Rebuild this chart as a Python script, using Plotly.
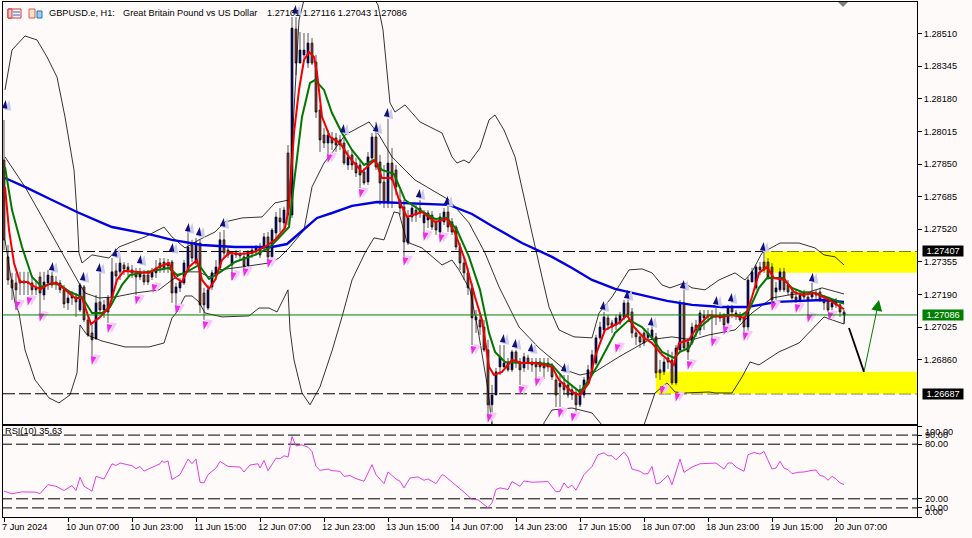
import plotly.graph_objects as go

opens = [1.27870,1.27380,1.27263,1.27248,1.27263,1.27248,1.27253,1.27248,1.27223,1.27278,
1.27187,1.27248,1.27283,1.27253,1.27248,1.27213,1.27147,1.27172,1.27177,1.27111,
1.27228,1.27061,1.26995,1.26965,1.27152,1.27111,1.27172,1.27172,1.27309,1.27304,
1.27339,1.27329,1.27314,1.27299,1.27278,1.27288,1.27288,1.27278,1.27299,1.27349,
1.27354,1.27349,1.27354,1.27197,1.27223,1.27248,1.27314,1.27440,1.27349,1.27450,
1.27197,1.27121,1.27228,1.27288,1.27324,1.27466,1.27415,1.27339,1.27400,1.27385,
1.27380,1.27334,1.27415,1.27405,1.27430,1.27425,1.27481,1.27380,1.27501,1.27577,
1.27552,1.27906,1.27592,1.28533,1.28361,1.28402,1.28361,1.28462,1.28366,1.28123,
1.27997,1.27956,1.27982,1.27982,1.27972,1.27956,1.27845,1.27896,1.27855,1.27845,
1.27810,1.27759,1.27880,1.27987,1.27860,1.27759,1.27653,1.27855,1.27820,1.27668,
1.27633,1.27450,1.27582,1.27617,1.27627,1.27552,1.27567,1.27592,1.27557,1.27506,
1.27557,1.27607,1.27557,1.27531,1.27430,1.27349,1.27299,1.27223,1.27076,1.27061,
1.27025,1.26909,1.26631,1.26681,1.26823,1.26823,1.26843,1.26808,1.26899,1.26848,
1.26818,1.26868,1.26848,1.26848,1.26848,1.26843,1.26823,1.26823,1.26757,1.26722,
1.26742,1.26732,1.26681,1.26691,1.26631,1.26681,1.26742,1.26793,1.26843,1.26970,
1.27010,1.27071,1.27046,1.27035,1.27046,1.27076,1.27147,1.27101,1.26995,1.26975,
1.26995,1.26970,1.26970,1.26975,1.26808,1.26798,1.26868,1.26858,1.26742,1.26909,
1.27147,1.26949,1.26944,1.27035,1.27010,1.27086,1.27086,1.27086,1.27086,1.27071,
1.27076,1.27046,1.27121,1.27086,1.27086,1.27071,1.27025,1.27253,1.27223,1.27329,
1.27354,1.27354,1.27329,1.27202,1.27213,1.27304,1.27238,1.27202,1.27177,1.27162,
1.27197,1.27177,1.27177,1.27197,1.27202,1.27162,1.27162,1.27126,1.27162,1.27137,
1.27101]
closes = [1.27466,1.27263,1.27223,1.27213,1.27248,1.27258,1.27248,1.27213,1.27213,1.27197,
1.27253,1.27288,1.27238,1.27243,1.27213,1.27142,1.27172,1.27187,1.27152,1.27238,
1.27061,1.26985,1.26960,1.27147,1.27111,1.27137,1.27101,1.27304,1.27283,1.27349,
1.27319,1.27314,1.27299,1.27278,1.27304,1.27253,1.27253,1.27304,1.27324,1.27324,
1.27324,1.27334,1.27197,1.27228,1.27253,1.27349,1.27430,1.27374,1.27450,1.27137,
1.27137,1.27213,1.27299,1.27329,1.27466,1.27400,1.27390,1.27390,1.27390,1.27395,
1.27334,1.27405,1.27400,1.27425,1.27390,1.27481,1.27380,1.27516,1.27582,1.27557,
1.27617,1.27592,1.28538,1.28361,1.28427,1.28427,1.28462,1.28361,1.28113,1.27972,
1.27956,1.27997,1.27956,1.27946,1.27946,1.27855,1.27886,1.27845,1.27805,1.27794,
1.27754,1.27886,1.27987,1.27835,1.27754,1.27653,1.27855,1.27769,1.27734,1.27627,
1.27455,1.27577,1.27627,1.27592,1.27602,1.27592,1.27602,1.27531,1.27516,1.27582,
1.27607,1.27531,1.27506,1.27430,1.27349,1.27299,1.27223,1.27071,1.27061,1.27025,
1.26909,1.26631,1.26681,1.26798,1.26874,1.26843,1.26808,1.26899,1.26848,1.26808,
1.26874,1.26843,1.26833,1.26823,1.26823,1.26818,1.26843,1.26772,1.26681,1.26742,
1.26707,1.26681,1.26707,1.26631,1.26707,1.26757,1.26808,1.26884,1.26970,1.27025,
1.27076,1.27035,1.27025,1.27071,1.27086,1.27147,1.27086,1.26995,1.26975,1.26949,
1.26944,1.26995,1.27010,1.26793,1.26793,1.26848,1.26848,1.26742,1.26919,1.27147,
1.26919,1.26899,1.27025,1.27010,1.27096,1.27071,1.27076,1.27071,1.27076,1.27086,
1.27035,1.27121,1.27101,1.27096,1.27061,1.27025,1.27263,1.27304,1.27329,1.27314,
1.27314,1.27278,1.27162,1.27223,1.27304,1.27213,1.27202,1.27172,1.27162,1.27187,
1.27177,1.27162,1.27197,1.27187,1.27162,1.27147,1.27111,1.27147,1.27137,1.27101,
1.27086]
highs = [1.28073,1.27440,1.27299,1.27299,1.27304,1.27304,1.27304,1.27288,1.27263,1.27304,
1.27304,1.27314,1.27304,1.27283,1.27263,1.27238,1.27197,1.27207,1.27197,1.27248,
1.27238,1.27086,1.27035,1.27187,1.27299,1.27162,1.27187,1.27374,1.27349,1.27374,
1.27354,1.27349,1.27339,1.27324,1.27324,1.27314,1.27314,1.27324,1.27364,1.27374,
1.27374,1.27369,1.27364,1.27248,1.27273,1.27364,1.27516,1.27466,1.27476,1.27466,
1.27223,1.27238,1.27314,1.27364,1.27506,1.27516,1.27425,1.27405,1.27415,1.27415,
1.27405,1.27415,1.27430,1.27440,1.27450,1.27501,1.27506,1.27526,1.27607,1.27627,
1.27633,1.27946,1.28594,1.28594,1.28518,1.28513,1.28513,1.28488,1.28402,1.28149,
1.28032,1.28022,1.28012,1.28007,1.27997,1.27982,1.27921,1.27921,1.27880,1.27870,
1.27830,1.27911,1.28007,1.28063,1.27896,1.27845,1.28078,1.27931,1.27845,1.27719,
1.27668,1.27617,1.27643,1.27643,1.27668,1.27617,1.27617,1.27612,1.27577,1.27602,
1.27627,1.27643,1.27577,1.27541,1.27450,1.27374,1.27324,1.27248,1.27111,1.27086,
1.27061,1.26960,1.26732,1.26818,1.26934,1.26934,1.26868,1.26909,1.26909,1.26868,
1.26894,1.26884,1.26868,1.26868,1.26868,1.26868,1.26868,1.26843,1.26782,1.26782,
1.26782,1.26782,1.26732,1.26717,1.26732,1.26772,1.26833,1.26909,1.26985,1.27051,
1.27101,1.27086,1.27061,1.27086,1.27101,1.27162,1.27162,1.27121,1.27020,1.26995,
1.27020,1.27020,1.27035,1.26995,1.26858,1.26868,1.26909,1.26899,1.26934,1.27162,
1.27213,1.26970,1.27046,1.27061,1.27111,1.27111,1.27111,1.27111,1.27121,1.27101,
1.27096,1.27137,1.27137,1.27111,1.27101,1.27086,1.27278,1.27324,1.27339,1.27354,
1.27405,1.27374,1.27349,1.27253,1.27324,1.27324,1.27263,1.27223,1.27213,1.27202,
1.27213,1.27197,1.27248,1.27213,1.27223,1.27187,1.27177,1.27162,1.27172,1.27147,
1.27111]
lows = [1.27415,1.27238,1.27162,1.27111,1.27187,1.27187,1.27187,1.27187,1.27187,1.27096,
1.27162,1.27213,1.27223,1.27213,1.27197,1.27121,1.27111,1.27137,1.27076,1.27101,
1.27051,1.26975,1.26879,1.26960,1.27096,1.27071,1.27046,1.27162,1.27238,1.27263,
1.27288,1.27283,1.27273,1.27187,1.27263,1.27238,1.27238,1.27263,1.27273,1.27299,
1.27299,1.27299,1.27147,1.27137,1.27202,1.27238,1.27304,1.27354,1.27339,1.27096,
1.27061,1.27111,1.27213,1.27263,1.27314,1.27374,1.27374,1.27263,1.27374,1.27364,
1.27324,1.27324,1.27374,1.27385,1.27374,1.27405,1.27364,1.27364,1.27476,1.27506,
1.27526,1.27541,1.27577,1.28300,1.28361,1.28376,1.28336,1.28351,1.28083,1.27911,
1.27931,1.27901,1.27921,1.27911,1.27921,1.27845,1.27820,1.27820,1.27784,1.27729,
1.27744,1.27744,1.27860,1.27820,1.27643,1.27627,1.27627,1.27627,1.27693,1.27592,
1.27380,1.27440,1.27557,1.27557,1.27577,1.27506,1.27526,1.27516,1.27491,1.27496,
1.27541,1.27506,1.27491,1.27415,1.27314,1.27263,1.27187,1.26934,1.26995,1.26985,
1.26899,1.26570,1.26529,1.26681,1.26782,1.26818,1.26798,1.26798,1.26818,1.26732,
1.26798,1.26808,1.26798,1.26767,1.26798,1.26762,1.26798,1.26757,1.26620,1.26620,
1.26681,1.26666,1.26656,1.26595,1.26620,1.26666,1.26732,1.26782,1.26833,1.26960,
1.26995,1.27010,1.26995,1.27010,1.27035,1.27061,1.27071,1.26970,1.26934,1.26919,
1.26929,1.26960,1.26960,1.26767,1.26757,1.26782,1.26813,1.26732,1.26732,1.26899,
1.26909,1.26858,1.26934,1.26975,1.26985,1.27010,1.27051,1.26970,1.27035,1.27051,
1.27020,1.27035,1.27071,1.27061,1.27051,1.27000,1.26985,1.27253,1.27213,1.27288,
1.27299,1.27263,1.27152,1.27162,1.27202,1.27202,1.27187,1.27162,1.27147,1.27147,
1.27162,1.27081,1.27162,1.27162,1.27152,1.27111,1.27101,1.27111,1.27121,1.27076,
1.27043]

red_bars = [0.25,1.25,2.5,4,5.75,7.75,9.25,11.25,13.25,15.25,17.75,19.5,20.75,21.75,23.75,26.25,28.25,30,32.75,36.25,38.75,41.25,42.75,44.5,46.25,48.25,49.5,51.25,52.75,54.5,56.25,58.75,62,65.25,67.75,70.25,71.25,72.5,73.75,75,76.25,77.5,78.25,79.5,81.5,84,86.25,89.5,91.25,92.75,94.5,97,99,100.75,104.5,107.75,110.75,112.75,115.25,117.75,119.5,121.25,122.5,124.5,127,129.5,132.75,137,138.75,142,144,146.25,147.75,150.25,153.75,155.75,157.5,160,162,164.5,167.5,168.75,171.25,173.25,176.25,179.5,182,185.25,187,188.75,190.75,192.5,195.25,197.5,199.5,202.75,206.25,210]
red_ma = [1.27734,1.27516,1.27349,1.27253,1.27253,1.27228,1.27218,1.27243,1.27248,1.27213,1.27172,1.27172,1.27096,1.27040,1.27071,1.27121,1.27263,1.27309,1.27304,1.27299,1.27329,1.27349,1.27278,1.27253,1.27329,1.27364,1.27263,1.27218,1.27263,1.27364,1.27400,1.27395,1.27400,1.27430,1.27466,1.27526,1.27633,1.28007,1.28225,1.28376,1.28417,1.28392,1.28311,1.28088,1.27987,1.27956,1.27886,1.27810,1.27845,1.27870,1.27779,1.27779,1.27653,1.27582,1.27607,1.27557,1.27572,1.27501,1.27364,1.27177,1.27061,1.26823,1.26782,1.26798,1.26858,1.26843,1.26843,1.26823,1.26757,1.26696,1.26681,1.26742,1.26874,1.27010,1.27046,1.27086,1.27025,1.26970,1.26944,1.26884,1.26833,1.26944,1.26960,1.27025,1.27086,1.27076,1.27086,1.27071,1.27177,1.27299,1.27329,1.27273,1.27263,1.27202,1.27187,1.27197,1.27162,1.27116]

green_bars = [0.25,2,4.5,7,9.5,12,14,16.5,19.5,22,24.5,26.5,29.5,31.5,34.5,38.75,41.25,43.25,45.25,48.75,51.25,53.75,57.75,62.75,66.25,68.25,71.25,72.5,74.5,76.5,77.75,80,82,84.5,87,90,92.5,94.5,97.5,100.25,104,107.75,110.75,113.25,116.25,119,121.25,122.75,125.25,129.5,133.75,137,140.25,144,146.25,148.75,152.75,156.25,159.5,162,164.5,167.5,169,171.25,173.75,177,180.25,184.5,186.25,188.75,190.75,194.5,197,199.5,202.75,206.25,210]
green_ma = [1.27835,1.27617,1.27430,1.27278,1.27228,1.27248,1.27238,1.27202,1.27177,1.27096,1.27096,1.27126,1.27238,1.27288,1.27299,1.27314,1.27324,1.27288,1.27299,1.27339,1.27268,1.27299,1.27354,1.27390,1.27425,1.27466,1.27531,1.27754,1.28088,1.28260,1.28275,1.28225,1.28108,1.28007,1.27921,1.27845,1.27870,1.27820,1.27799,1.27668,1.27617,1.27572,1.27577,1.27516,1.27380,1.27213,1.26995,1.26899,1.26848,1.26843,1.26843,1.26833,1.26757,1.26696,1.26757,1.26843,1.26995,1.27061,1.27025,1.26970,1.26899,1.26868,1.26899,1.26919,1.27020,1.27076,1.27086,1.27086,1.27111,1.27223,1.27273,1.27273,1.27223,1.27202,1.27197,1.27172,1.27142]

blue_bars = [0.25,5.75,12,18.25,24.5,27,37,42,49.5,57.75,67,70.75,74.5,78.25,82,87,93.25,99.5,111.25,117,122,129.5,137,142,147,152.75,162,165.75,172,179.5,185.75,190.75,193.25,199.5,204.5,210]
blue_ma = [1.27779,1.27729,1.27668,1.27607,1.27552,1.27531,1.27491,1.27466,1.27440,1.27430,1.27430,1.27445,1.27511,1.27577,1.27602,1.27638,1.27658,1.27653,1.27643,1.27597,1.27536,1.27450,1.27380,1.27324,1.27263,1.27218,1.27177,1.27157,1.27137,1.27126,1.27126,1.27142,1.27152,1.27157,1.27162,1.27152]

upper_bars = [0.25,2,5.25,8.25,10.75,13.25,15.25,17.5,18.25,18.75,19.5,22,26.25,28.75,35.25,40,42,45.25,48.75,52.75,55.25,59.5,64.5,67.75,71.25,73.75,75,82,92,93.5,94.75,95.75,96.5,97.75,100.25,104,109.5,112,113.25,115,116.25,119,121.25,122.75,125,127.75,129.5,132,134.5,136.25,138.75,142.5,147,148.75,152,156.25,159.5,162,164.5,166.5,170,172,175.25,178.75,182.75,185.25,187,189.5,194,198.75,202.75,205,207.75,210]
upper_band = [1.28225,1.28427,1.28498,1.28478,1.28392,1.28290,1.28088,1.27820,1.27602,1.27400,1.27349,1.27390,1.27374,1.27430,1.27481,1.27531,1.27481,1.27425,1.27466,1.27506,1.27557,1.27577,1.27582,1.27653,1.27668,1.28579,1.28680,1.28984,1.28705,1.28655,1.28528,1.28326,1.28159,1.28113,1.28149,1.28063,1.28007,1.27886,1.27855,1.27870,1.27855,1.27931,1.28073,1.28098,1.28022,1.27886,1.27734,1.27501,1.27278,1.27126,1.27010,1.26975,1.26970,1.27096,1.27177,1.27314,1.27319,1.27299,1.27238,1.27223,1.27248,1.27223,1.27213,1.27263,1.27299,1.27263,1.27304,1.27400,1.27450,1.27450,1.27425,1.27390,1.27380,1.27339]

inner_bars = [0.25,5.25,9.5,15,19,20.25,23.75,27.75,32.75,38.75,42,45.25,48.75,51.25,53.75,59.5,66.25,68.75,71.25,75,77,80,82,85.25,91.25,93.75,97,102.75,111.25,116.25,120.25,123.75,128.75,133.75,140.25,144,147.75,153.75,161.25,167,172,176.25,182.75,187,192,196.25,201.25,204.5,210]
inner_band = [1.27886,1.27734,1.27582,1.27380,1.27238,1.27197,1.27172,1.27177,1.27197,1.27213,1.27263,1.27304,1.27304,1.27278,1.27314,1.27329,1.27349,1.27374,1.27425,1.27516,1.27734,1.27855,1.27906,1.27997,1.28063,1.27997,1.27886,1.27769,1.27668,1.27552,1.27400,1.27228,1.27025,1.26919,1.26808,1.26782,1.26798,1.26874,1.26960,1.26975,1.26960,1.26985,1.27010,1.27096,1.27172,1.27187,1.27202,1.27223,1.27192]

lower_bars = [0.25,2.75,3.75,5.25,7.75,11.25,13.75,16.5,18.25,19,20.75,24.5,30.25,36.25,40,42,43.25,45.25,47,48.75,50.25,54.5,61.25,63.75,66.25,68.25,71,71.5,72.5,74.5,76.5,79,82,84.5,87,90.25,92.5,95,97.5,98.75,100.75,104.5,109.5,112,113.75,116.5,118.5,121,122,123.5,133.25,135,137,142,147,149.5,152,157.5,160,162.75,165.75,167.75,170.25,176.25,177.75,182,184.5,186.5,188.75,193.75,198.75,202,205,207,210,210.25]
lower_band = [1.27466,1.27147,1.27096,1.26909,1.26757,1.26666,1.26641,1.26681,1.26793,1.27035,1.26985,1.26954,1.26924,1.26924,1.26944,1.27071,1.27101,1.27182,1.27182,1.27152,1.27096,1.27076,1.27081,1.27121,1.27121,1.27101,1.27213,1.27010,1.26858,1.26691,1.26631,1.26722,1.26904,1.27076,1.27263,1.27400,1.27476,1.27466,1.27607,1.27602,1.27455,1.27425,1.27339,1.27364,1.27314,1.27213,1.27010,1.26707,1.26529,1.26302,1.26302,1.26540,1.26605,1.26615,1.26590,1.26529,1.26302,1.26302,1.26529,1.26691,1.26742,1.26696,1.26691,1.26696,1.26691,1.26691,1.26772,1.26848,1.26833,1.26899,1.26944,1.27010,1.27076,1.27061,1.27040,1.27096]

up_bars = [0.75,12.5,20.25,24.25,28.25,34.5,42.5,46.5,49.25,55.25,73.25,85.25,93.5,96.25,104.25,111.25,125.25,128.25,132.25,140.5,150.25,156.25,162.25,170.25,178.5,182.25,190.25,202.5]
up_prices = [1.28174,1.27354,1.27304,1.27349,1.27425,1.27390,1.27450,1.27552,1.27531,1.27577,1.28655,1.28053,1.28058,1.28133,1.27724,1.27688,1.26990,1.26965,1.26944,1.26843,1.27157,1.27213,1.27076,1.27263,1.27182,1.27197,1.27455,1.27299]
down_bars = [3.25,6.25,9.25,22.25,26.25,33.25,37.5,43.25,50.25,57.25,60.25,66.25,81.25,89.25,100.25,105.25,109.25,117.25,121.25,129.25,133.25,139,142.25,153.25,164.5,168.25,171.25,177.25,180.25,185.25,192.25,198.25,201.25,206.5]
down_prices = [1.27111,1.27132,1.27051,1.26833,1.26995,1.27137,1.27197,1.27091,1.27010,1.27258,1.27278,1.27324,1.27855,1.27678,1.27334,1.27460,1.27450,1.26884,1.26540,1.26681,1.26722,1.26565,1.26545,1.26894,1.26681,1.26646,1.26808,1.26924,1.26985,1.26954,1.27106,1.27096,1.27046,1.27056]

rsi_bars = [0,2,4.5,8,9,11,12,13,15,17,18,19,20,22,23,25,27,28,29,32,33,34,35,39,39.5,40,41,42,44,46,47,48,49,50,51,53,54,56,59,60,61.5,63.5,64,65,66,68,69,70,71,72,73,74.5,76,77,78,79,81,82,84,85,86.5,88,90,92,93,95,96,98,99,100,101.5,103.5,105,106,108,109.5,110,111.5,114,115,117,118.5,121,122,123,124,126,127,129,130,132,136,138,139,140,141,142,143,145,147,148.5,150,151,152,153,155,156,157,159,160,161,162,163,164,166,167,169,170,172,174,178,180,181,182,183,185,186,187.5,189,190,192,193,194,195,196,197,198.5,200,202,203,204,205,206,207,208,209,210]
rsi_values = [28.4,25.5,27.6,27.3,25.5,35.6,34.5,33.8,29.1,34.5,29.1,43.6,33.8,28.4,44.7,41.8,58.5,56.7,59.3,56.4,53.1,55.6,50.5,58.5,61.8,60,61.5,41.1,46.5,63.6,58.5,63.6,38.2,37.5,46.5,53.8,61.1,55.6,54.9,49.5,57.1,58.5,53.8,62.2,50.9,64.7,64,67.3,65.8,88.4,78.2,79.3,76.7,72,55.6,51.3,52.7,50.9,50.2,44.7,45.5,42.2,39.3,57.5,46.5,36.7,49.5,41.8,39.3,32,42.9,44,40.4,41.8,36.7,46.5,45.8,40.4,30.9,27.3,19.3,18.9,10.2,15.6,30.2,32,30.2,38.9,33.8,39.6,38.2,38.9,27.6,28.4,37.5,32,34.9,29.5,46.5,55.6,68.4,70.5,67.3,67.3,62.9,71.3,65.8,52.7,50.2,47.3,47.6,55.6,36.4,37.5,45.8,35.6,63.6,49.1,54.9,58.5,59.3,52.7,59.3,59.3,54.9,50.2,68.4,70.9,69.1,72,52.7,53.8,61.1,53.8,52,47.6,49.1,49.5,51.3,51.6,45.5,44.7,40.4,44.7,41.8,37.5,35.63]

price_ticks = [1.28510,1.28345,1.28180,1.28015,1.27850,1.27685,1.27520,1.27355,1.27190,1.27025,1.26860]
resistance = 1.27407
support = 1.26687
last_price = 1.27086
zone_top = [190.25, 1.27407, 1.27299]
zone_bottom = [163, 1.26798, 1.26687]
down_leg_bars = [211.25, 215]
down_leg_prices = [1.27020, 1.26798]
up_leg_bars = [215, 218.75]
up_leg_prices = [1.26798, 1.27162]
time_ticks = list(range(0, 209, 16))
time_labels = ["7 Jun 2024","10 Jun 07:00","10 Jun 23:00","11 Jun 15:00","12 Jun 07:00","12 Jun 23:00","13 Jun 15:00","14 Jun 07:00","14 Jun 23:00","17 Jun 15:00","18 Jun 07:00","18 Jun 23:00","19 Jun 15:00","20 Jun 07:00"]
rsi_levels = [90, 80, 20, 10]
rsi_tick_vals = [100, 90, 80, 20, 10, 0]
rsi_tick_labels = ["100.00","90.00","80.00","20.00","10.00","0.00"]

assert len(opens)==len(closes)==len(highs)==len(lows)==211, (len(opens),len(closes),len(highs),len(lows))
assert len(rsi_bars)==len(rsi_values), (len(rsi_bars),len(rsi_values))

W, H = 972, 538
L, R, T, B = 3, 917, 2, 517
BG = "#FFFAFA"
FONT = "Liberation Sans"
FS = 9.2
def px(x): return (x - L) / (R - L)
def py(y): return (B - y) / (B - T)

fig = go.Figure()
fig.add_trace(go.Candlestick(x=list(range(len(opens))), open=opens, high=highs, low=lows, close=closes,
    increasing=dict(line=dict(color="#101010", width=0.7), fillcolor="#000080"),
    decreasing=dict(line=dict(color="#101010", width=0.7), fillcolor="#8B3A2B"),
    whiskerwidth=0, hoverinfo="skip", showlegend=False))
def line(xs, ys, color, width, **kw):
    fig.add_trace(go.Scatter(x=xs, y=ys, mode="lines", line=dict(color=color, width=width), hoverinfo="skip", showlegend=False, **kw))
line(upper_bars, upper_band, "#000000", 0.8)
line(inner_bars, inner_band, "#000000", 0.8)
line(lower_bars, lower_band, "#000000", 0.8)
line(blue_bars, blue_ma, "#0000E0", 2.4)
line(green_bars, green_ma, "#007800", 2)
line(red_bars, red_ma, "#F00000", 2)
line(down_leg_bars, down_leg_prices, "#000000", 1.8)
line(rsi_bars, rsi_values, "#E040E0", 1, xaxis="x2", yaxis="y2")

def arrows(xs, ys, angle, pale, dark, shift):
    fig.add_trace(go.Scatter(x=[v + shift for v in xs], y=ys, mode="markers",
        marker=dict(symbol="arrow", angle=angle, size=11, color=pale, line=dict(width=0)), hoverinfo="skip", showlegend=False))
    fig.add_trace(go.Scatter(x=[v - shift/2 for v in xs], y=ys, mode="markers",
        marker=dict(symbol="arrow", angle=angle, size=9, color=dark, line=dict(width=0)), hoverinfo="skip", showlegend=False))
arrows(up_bars, up_prices, 8, "#C8CCEC", "#101080", 0.6)
arrows(down_bars, down_prices, 192, "#F8C8F8", "#F028F0", 0.6)

shapes = []
for z in (zone_top, zone_bottom):
    shapes.append(dict(type="rect", xref="x", yref="y", x0=z[0], x1=229, y0=z[2], y1=z[1], fillcolor="#FFFF00", line=dict(width=0), layer="below"))
for level in (resistance, support):
    shapes.append(dict(type="line", xref="paper", yref="y", x0=0, x1=1, y0=level, y1=level, line=dict(color="#000000", width=1, dash="12px,4px"), layer="below"))
shapes.append(dict(type="line", xref="paper", yref="y", x0=0, x1=1, y0=last_price, y1=last_price, line=dict(color="#008000", width=1), layer="above"))
for level in rsi_levels:
    shapes.append(dict(type="line", xref="x2", yref="y2", x0=-1, x1=229, y0=level, y1=level, line=dict(color="#000000", width=1, dash="12px,4px"), layer="below"))
def box(x0, y0, x1, y1, col, fill="rgba(0,0,0,0)", w=1):
    shapes.append(dict(type="rect", xref="paper", yref="paper", x0=px(x0), x1=px(x1), y0=py(y0), y1=py(y1), line=dict(color=col, width=w), fillcolor=fill))
box(8, 9, 21, 18, "#D03030", "#FFFFFF")
box(8, 9, 12, 18, "#D03030", "#F8C8C0")
for yy in (12, 15):
    shapes.append(dict(type="line", xref="paper", yref="paper", x0=px(13), x1=px(20), y0=py(yy), y1=py(yy), line=dict(color="#3050C0", width=1)))
box(29, 9, 35, 18, "#D06040", "#F8E0D0")
box(37, 11, 42, 18, "#2070B0", "#A0D0F0")
shapes.append(dict(type="path", xref="paper", yref="paper", fillcolor="#808080", line=dict(width=0),
    path=f"M {px(838)} {py(2)} L {px(848)} {py(2)} L {px(843)} {py(7)} Z"))

ann = []
def text(x, y, s, color="#000000", anchor="left", **kw):
    ann.append(dict(xref="paper", yref="paper", x=px(x), y=py(y), text=s, showarrow=False, xanchor=anchor, yanchor="middle",
                    font=dict(family=FONT, size=FS, color=color), borderpad=0, **kw))
text(48, 13, "GBPUSD.e, H1:")
text(122, 13, "Great Britain Pound vs US Dollar")
text(266, 13, "1.27101 1.27116 1.27043 1.27086")
text(4, 431, "RSI(10) 35.63")
for i, lab in zip(time_ticks, time_labels):
    text(L + 4*i - 2, 527, lab)
for lab, y in zip(rsi_tick_labels, (431.5, 435, 444.3, 499.3, 508.3, 511.5)):
    text(924, y, lab)
for price, col, y in ((resistance, "#000000", 251.5), (last_price, "#008000", 314.5), (support, "#000000", 393.5)):
    ann.append(dict(xref="paper", yref="paper", x=px(922), y=py(y), text=f"{price:.5f}", showarrow=False, xanchor="left", yanchor="middle",
                    width=40, height=10, align="center", bgcolor=col, font=dict(family=FONT, size=FS, color="#FFFFFF"), borderpad=0))
ann.append(dict(x=up_leg_bars[1], y=up_leg_prices[1], ax=up_leg_bars[0], ay=up_leg_prices[0], xref="x", yref="y", axref="x", ayref="y",
                text="", showarrow=True, arrowhead=2, arrowsize=2.2, arrowwidth=1, arrowcolor="#008000"))

axis_line = dict(showline=True, linecolor="#000000", linewidth=1, mirror=True, showgrid=False, zeroline=False)
fig.update_layout(
    width=W, height=H, autosize=False, margin=dict(l=L, r=W-R, t=T, b=H-B),
    paper_bgcolor=BG, plot_bgcolor=BG, showlegend=False,
    font=dict(family=FONT, size=FS, color="#000000"),
    shapes=shapes, annotations=ann,
    xaxis=dict(domain=[0, 1], range=[-0.25, 228.25], anchor="y", showticklabels=False, ticks="", rangeslider=dict(visible=False), **axis_line),
    yaxis=dict(domain=[py(424), 1], range=[1.26534, 1.28670], side="right", anchor="x", tickmode="array", tickvals=price_ticks,
               ticktext=[f"{p:.5f}" for p in price_ticks], ticks="outside", ticklen=4, tickcolor="#000000", tickfont=dict(family=FONT, size=FS), **axis_line),
    xaxis2=dict(domain=[0, 1], range=[-0.25, 228.25], anchor="y2", tickmode="array", tickvals=time_ticks, ticktext=[""]*len(time_ticks), ticks="outside", ticklen=4, tickcolor="#000000", **axis_line),
    yaxis2=dict(domain=[0, py(426)], range=[0, 100], side="right", anchor="x2", tickmode="array", tickvals=rsi_tick_vals, ticktext=[""]*len(rsi_tick_vals), ticks="outside", ticklen=4, tickcolor="#000000", **axis_line),
)
fig.write_html("out.html", config=dict(displayModeBar=False), post_script="document.body.style.margin='0';document.body.style.overflow='hidden';")
